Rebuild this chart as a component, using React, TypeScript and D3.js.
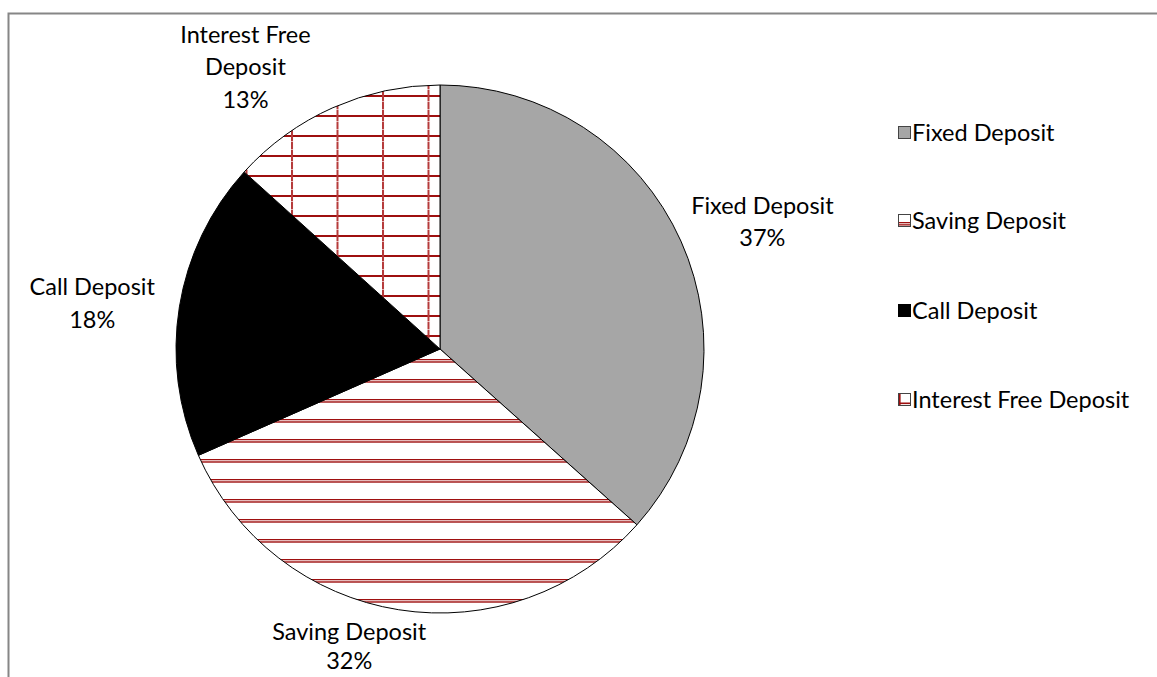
import React from "react";
import * as d3 from "d3";

const categories = ["Fixed Deposit", "Saving Deposit", "Call Deposit", "Interest Free Deposit"];
const values = [36.6, 31.8, 18.3, 13.3];
const labelLines = [["Fixed Deposit"], ["Saving Deposit"], ["Call Deposit"], ["Interest Free", "Deposit"]];

const W = 1157;
const H = 677;
const cx = 440;
const cy = 349;
const R = 264;
const FONT = "Lato, 'Open Sans', sans-serif";
const FS = 23.5;
const LH = 31;
const RED = "#9e0f0f";

const fills = ["#a6a6a6", "url(#pSaving)", "#000000", "url(#pGrid)"];
// small layout nudges for labels (Excel-like placement)
const nudges: [number, number][] = [[13, -1], [-37, -3], [-18, 4], [-57, 14]];

export default function App() {
  const pie = d3.pie<number>().sort(null).value((d) => d);
  const arcs = pie(values);
  const arcGen = d3.arc<d3.PieArcDatum<number>>().innerRadius(0).outerRadius(R);
  const total = d3.sum(values);

  const labels = arcs.map((a, i) => {
    const mid = (a.startAngle + a.endAngle) / 2;
    const s = Math.sin(mid);
    const c = -Math.cos(mid);
    const lines = [...labelLines[i], `${Math.round((values[i] / total) * 100)}%`];
    const hw = Math.max(...lines.map((l) => l.length)) * 5;
    const hh = (lines.length * 32.5) / 2;
    const ax = cx + (R + 10) * s;
    const ay = cy + (R + 10) * c;
    const bx = ax + hw * s + nudges[i][0];
    const by = ay + hh * c + nudges[i][1];
    return { lines, x: bx, y: by, hh };
  });

  const legendY = [133, 221, 311, 400];

  return (
    <svg
      width={W}
      height={H}
      style={{ position: "absolute", left: 0, top: 0, background: "#fff" }}
    >
      <defs>
        <pattern id="pSaving" patternUnits="userSpaceOnUse" x={0} y={10} width={20} height={20}>
          <rect width={20} height={20} fill="#fff" />
          <rect y={0} width={20} height={1.4} fill={RED} />
          <rect y={1.4} width={20} height={0.9} fill="#f0d0d0" />
          <rect y={2.3} width={20} height={1.4} fill={RED} />
        </pattern>
        <pattern id="pGrid" patternUnits="userSpaceOnUse" x={33} y={6} width={45.5} height={20}>
          <rect width={45.5} height={20} fill="#fff" />
          <rect x={0} y={0} width={45.5} height={2} fill={RED} />
          <rect x={0} y={0} width={2} height={20} fill="#b53a3a" />
          <rect x={0} y={6} width={2} height={0.8} fill="#f0d0d0" />
          <rect x={0} y={14} width={2} height={0.8} fill="#f0d0d0" />
        </pattern>
      </defs>

      <rect x={8.5} y={13.5} width={1160} height={700} fill="#fff" stroke="#868686" strokeWidth={2} />

      <g transform={`translate(${cx},${cy})`}>
        {arcs.map((a, i) => (
          <path key={i} d={arcGen(a) || ""} fill={fills[i]} stroke="#000" strokeWidth={1} />
        ))}
      </g>

      {labels.map((l, i) => (
        <text
          key={i}
          x={l.x}
          y={l.y - l.hh + 32.5 * 0.72}
          textAnchor="middle"
          fontFamily={FONT}
          fontSize={FS}
          fill="#000"
        >
          {l.lines.map((t, j) => (
            <tspan key={j} x={l.x} dy={j === 0 ? 0 : i === 1 ? LH - 2 : 32.5}>
              {t}
            </tspan>
          ))}
        </text>
      ))}

      {categories.map((c, i) => {
        const y = legendY[i];
        const x = 898;
        return (
          <g key={c}>
            {i === 0 && <rect x={x + 0.5} y={y - 6.5} width={12} height={12} fill="#a6a6a6" stroke="#444" strokeWidth={1} />}
            {i === 1 && (
              <g>
                <rect x={x + 0.5} y={y - 6.5} width={12} height={12} fill="#fff" stroke="#444" strokeWidth={1} />
                <rect x={x + 1} y={y + 1} width={11} height={1.3} fill={RED} />
                <rect x={x + 1} y={y + 3.2} width={11} height={1.3} fill={RED} />
              </g>
            )}
            {i === 2 && <rect x={x + 0.5} y={y - 6.5} width={12} height={12} fill="#000" stroke="#000" strokeWidth={1} />}
            {i === 3 && (
              <g>
                <rect x={x + 0.5} y={y - 6.5} width={12} height={12} fill="#fff" stroke="#444" strokeWidth={1} />
                <rect x={x + 1} y={y + 2.5} width={11} height={1.6} fill={RED} />
                <rect x={x + 1} y={y - 6} width={1.6} height={11} fill={RED} />
              </g>
            )}
            <text x={x + 14} y={y + 8} fontFamily={FONT} fontSize={FS} fill="#000">
              {c}
            </text>
          </g>
        );
      })}
    </svg>
  );
}
